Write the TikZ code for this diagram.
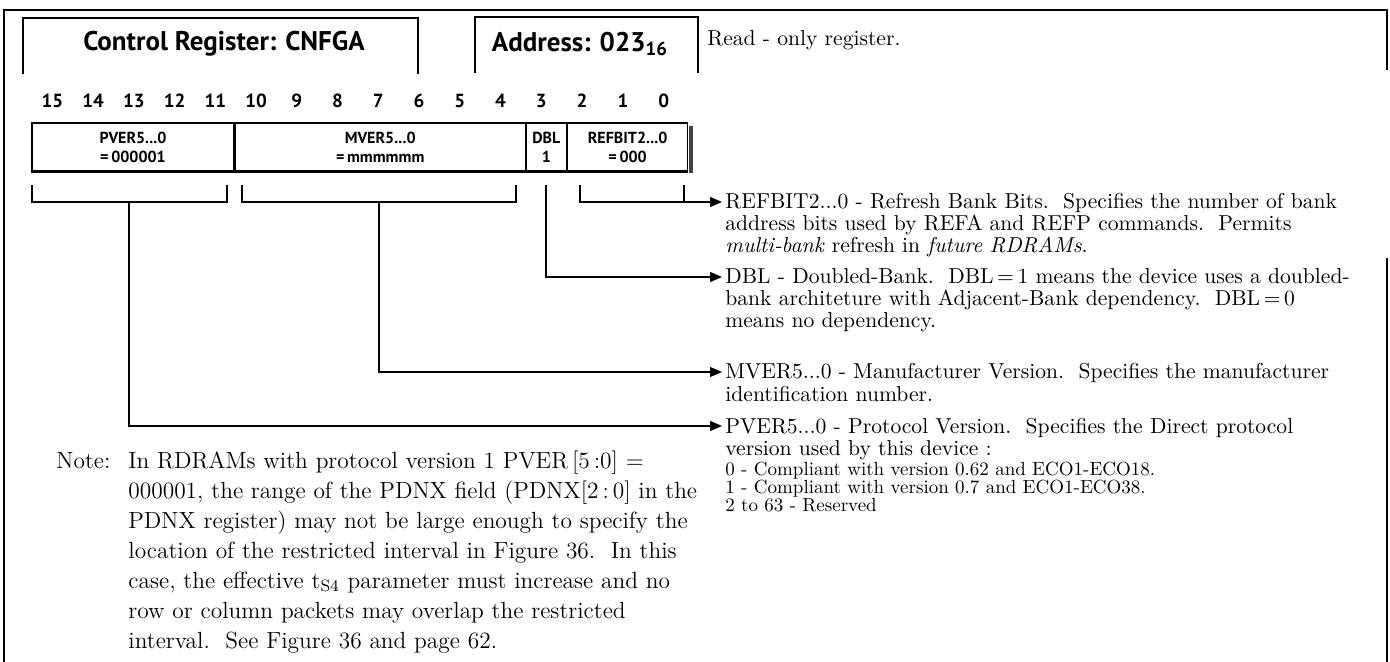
\documentclass[tikz,border=0pt]{standalone}
\usepackage{fontspec}
\usepackage{tikz}
\usetikzlibrary{positioning,arrows.meta}

\newfontfamily\hdfont{PT Sans}

\tikzset{
    marco/.style={line width=0.7pt},
    cab/.style={font=\hdfont\bfseries\fontsize{13.5}{13.5}\selectfont, inner sep=0pt},
    bitnum/.style={font=\hdfont\bfseries\fontsize{9.5}{9.5}\selectfont, inner sep=0pt},
    campo/.style={draw, line width=0.6pt, inner sep=0pt, minimum height=24pt, align=center,
        font=\hdfont\bfseries\fontsize{8}{9.5}\selectfont},
    desc/.style={anchor=base west, inner sep=0pt, text width=340pt, align=left,
        font=\fontsize{10.8}{11}\selectfont},
    flecha/.style={line width=0.6pt, shorten >=1.5pt, -{Triangle[length=6pt,width=5pt]}},
}

\begin{document}
\begin{tikzpicture}[x=0.5pt, y=-0.5pt]
    \useasboundingbox (0,0) rectangle (1390,662);
    \fill[white] (0,0) rectangle (1390,662);

    % Marco exterior
    \draw[marco] (4,662) -- (4,10) -- (1387,10) -- (1387,70);
    \draw[marco] (1387,258) -- (1387,662);

    % Cabecera
    \draw[marco] (23,74) |- (418,18) -- (418,74);
    \draw[marco] (475,73) |- (698,17) -- (698,73);
    \node[cab] (ctrl) at (224,44) {Control Register: CNFGA};
    \node[cab] (addr) at (580,44) {Address: 023\textsubscript{16}};
    \node[desc] (ro) at (707,46) {Read - only register.};

    % Numeros de bit
    \foreach \b in {0,...,15} {
        \node[bitnum] (b\b) at ({32+(15.5-\b)*40.75},101) {\b};
    }

    % Campos del registro
    \node[campo, minimum width=101pt] (pver) at (133,147) {PVER5...0\\=\,000001};
    \node[campo, minimum width=145pt, right=0pt of pver] (mver) {MVER5...0\\=\,mmmmmm};
    \node[campo, minimum width=20pt, right=0pt of mver] (dbl) {DBL\\1};
    \node[campo, minimum width=60pt, right=0pt of dbl] (refbit) {REFBIT2...0\\=\,000};
    \draw[line width=1.6pt] (pver.south west) -- (refbit.south east);
    \draw[line width=2pt, black!75] ([xshift=1.3pt,yshift=-2pt]refbit.north east) -- ([xshift=1.3pt,yshift=-0.8pt]refbit.south east);

    % Llaves bajo los campos
    \draw[marco] (32,185) |- (227,202) -- (227,185);
    \draw[marco] (242,185) |- (516,202) -- (516,185);
    \draw[marco] (580,185) |- (684,202) -- (684,185);
    \coordinate (pS) at (129,202);
    \coordinate (mS) at (379,202);
    \coordinate (dS) at (546,185);
    \coordinate (rS) at (684,202);

    % Descripciones
    \node[desc] (dRef) at (725,209) {REFBIT2...0 - Refresh Bank Bits.\ \ Specifies the number of bank\\
        address bits used by REFA and REFP commands.\ \ Permits\\
        \textit{multi-bank} refresh in \textit{future RDRAMs}.};
    \node[desc] (dDbl) at (725,284) {DBL - Doubled-Bank.\ \ DBL\,=\,1 means the device uses a doubled-\\
        bank architeture with Adjacent-Bank dependency.\ \ DBL\,=\,0\\
        means no dependency.};
    \node[desc] (dMver) at (725,379) {MVER5...0 - Manufacturer Version.\ \ Specifies the manufacturer\\
        identification number.};
    \node[desc] (dPver) at (725,433) {PVER5...0 - Protocol Version.\ \ Specifies the Direct protocol\\
        version used by this device :};
    \node[desc, font=\fontsize{9.5}{9}\selectfont] (dList) at (725,475) {0 - Compliant with version 0.62 and ECO1-ECO18.\\
        1 - Compliant with version 0.7 and ECO1-ECO38.\\
        2 to 63 - Reserved};

    % Conectores
    \draw[flecha] (rS) -- ([yshift=3.5pt]dRef.base west);
    \draw[flecha] (dS) |- ([yshift=3.5pt]dDbl.base west);
    \draw[flecha] (mS) |- ([yshift=3.5pt]dMver.base west);
    \draw[flecha] (pS) |- ([yshift=3.5pt]dPver.base west);

    % Nota
    \node[desc, text width=40pt, font=\fontsize{11.7}{15}\selectfont] (nLbl) at (56,468) {Note:};
    \node[desc, text width=340pt, font=\fontsize{11.7}{15}\selectfont] (nTxt) at (128,468) {In RDRAMs with protocol version 1 PVER\,[5\,:0] =\\
        000001, the range of the PDNX field (PDNX[2\,:\,0] in the\\
        PDNX register) may not be large enough to specify the\\
        location of the restricted interval in Figure 36.\ \ In this\\
        case, the effective t\textsubscript{S4} parameter must increase and no\\
        row or column packets may overlap the restricted\\
        interval.\ \ See Figure 36 and page 62.};
\end{tikzpicture}
\end{document}
